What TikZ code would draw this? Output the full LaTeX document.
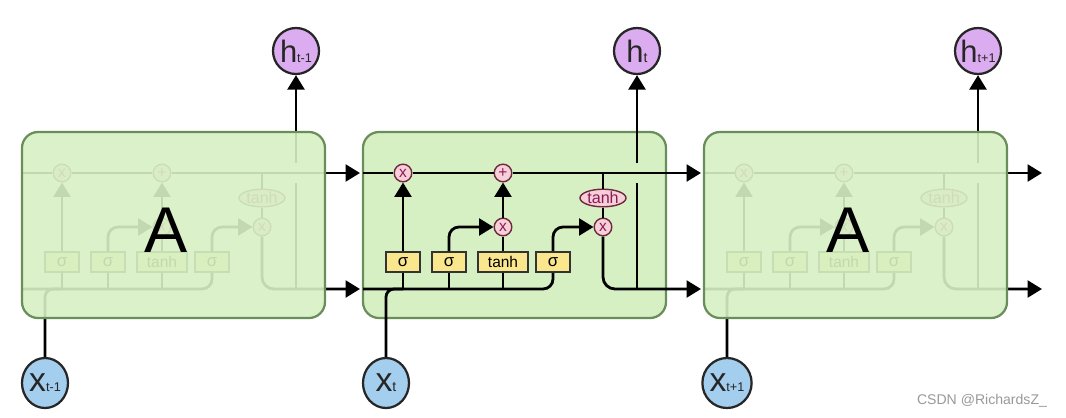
\documentclass[tikz,border=0pt]{standalone}
\usepackage{fontspec}
\setmainfont{Liberation Sans}
\usetikzlibrary{arrows.meta,shapes.geometric}

\definecolor{cellgreen}{RGB}{214,240,196}
\definecolor{celledge}{RGB}{106,142,90}
\definecolor{gatefill}{RGB}{250,230,140}
\definecolor{opfill}{RGB}{246,208,214}
\definecolor{opedge}{RGB}{110,40,66}
\definecolor{optext}{RGB}{140,24,92}
\definecolor{hfill}{RGB}{220,172,240}
\definecolor{xfill}{RGB}{164,206,238}

% one LSTM cell: #1 left edge, #2 prefix, #3 output node, #4 input node
\newcommand{\lstmcell}[4]{%
  \coordinate (#2cin) at (#1,173);
  \coordinate (#2cout) at ({#1+338},173);
  \coordinate (#2hin) at (#1,289);
  \coordinate (#2hout) at ({#1+338},289);
  \coordinate (#2tap) at ({#1+240},173);
  \coordinate (#2hup) at ({#1+274},289);
  \coordinate (#2gapb) at ({#1+274},183);
  \coordinate (#2gapt) at ({#1+274},163);
  \node[op] (#2f) at ({#1+40},173) {x};
  \node[op] (#2a) at ({#1+140},173) {+};
  \node[op] (#2i) at ({#1+140},227) {x};
  \node[op] (#2o) at ({#1+240},227) {x};
  \node[act] (#2th) at ({#1+240},198) {tanh};
  \node[gate] (#2g1) at ({#1+40},262) {σ};
  \node[gate] (#2g2) at ({#1+86},262) {σ};
  \node[gate, minimum width=1.25cm, font=\fontsize{11}{11}\selectfont] (#2g3) at ({#1+140},262) {tanh};
  \node[gate] (#2g4) at ({#1+190},262) {σ};
  % cell state
  \draw (#2cin) -- (#2f) (#2f) -- (#2a);
  \draw[arr] (#2a) -- (#2cout);
  % gates
  \draw[arr] (#2g1) -- (#2f);
  \draw[arr, rounded corners=0.25cm] (#2g2) |- (#2i);
  \draw (#2g3) -- (#2i);
  \draw[arr] (#2i) -- (#2a);
  \draw[arr, rounded corners=0.25cm] (#2g4) |- (#2o);
  \draw (#2tap) -- (#2th) (#2th) -- (#2o);
  % hidden state in and out
  \draw[rounded corners=0.25cm] (#2hin) -| (#2g4);
  \draw (#2g1) -- (#2g1 |- #2hin) (#2g2) -- (#2g2 |- #2hin) (#2g3) -- (#2g3 |- #2hin);
  \draw[rounded corners=0.2cm] (#4) |- (#2g1 |- #2hin);
  \draw[arr, rounded corners=0.3cm] (#2o) |- (#2hout);
  \draw (#2hup) -- (#2gapb);
  \draw[arr] (#2gapt) -- (#3);
}

\begin{document}
\begin{tikzpicture}[x=0.025cm, y=-0.025cm, line width=2pt,
  arr/.style={-{Triangle[length=0.36cm,width=0.42cm]}},
  cellbox/.style={draw=celledge, line width=1.6pt, rounded corners=0.4cm},
  op/.style={circle, draw=opedge, fill=opfill, line width=1pt, minimum size=0.44cm, inner sep=0pt, text=optext, font=\fontsize{11}{11}\selectfont},
  act/.style={ellipse, draw=opedge, fill=opfill, line width=1pt, minimum width=1.15cm, minimum height=0.44cm, inner sep=0pt, text=optext, font=\fontsize{11.5}{11.5}\selectfont},
  gate/.style={rectangle, draw=black!80, fill=gatefill, line width=1.2pt, minimum height=0.5cm, minimum width=0.84cm, inner sep=0pt, font=\fontsize{12}{12}\selectfont},
  hnode/.style={circle, draw=black!85, fill=hfill, line width=1.6pt, minimum size=1.15cm, inner sep=0pt, text=black!85, font=\fontsize{22}{22}\selectfont},
  xnode/.style={ellipse, draw=black!85, fill=xfill, line width=1.6pt, minimum width=1.15cm, minimum height=1.25cm, inner sep=0pt, text=black!85, font=\fontsize{24}{24}\selectfont}]

    \useasboundingbox (0,0) rectangle (1066,417);

    \node[hnode] (hprev) at (296,51) {h{\fontsize{9}{9}\selectfont t-1}};
    \node[hnode] (hcur) at (637,51) {h{\fontsize{10}{10}\selectfont t}};
    \node[hnode] (hnext) at (978,51) {h{\fontsize{9}{9}\selectfont t+1}};
    \node[xnode] (xprev) at (45,383) {x{\fontsize{9}{9}\selectfont t-1}};
    \node[xnode] (xcur) at (386,383) {x{\fontsize{10}{10}\selectfont t}};
    \node[xnode] (xnext) at (727,383) {x{\fontsize{9}{9}\selectfont t+1}};

    % previous cell, faded
    \lstmcell{22}{prev}{hprev}{xprev}
    \fill[cellgreen, fill opacity=.9, rounded corners=0.4cm] (22,132) rectangle (325,318);
    \draw[cellbox] (22,132) rectangle (325,318);
    \node[font=\fontsize{46}{46}\selectfont] (aprev) at (166,230) {A};

    % current cell
    \draw[cellbox, fill=cellgreen] (363,132) rectangle (666,318);
    \lstmcell{363}{cur}{hcur}{xcur}

    % next cell, faded
    \lstmcell{704}{next}{hnext}{xnext}
    \fill[cellgreen, fill opacity=.9, rounded corners=0.4cm] (704,132) rectangle (1007,318);
    \draw[cellbox] (704,132) rectangle (1007,318);
    \node[font=\fontsize{46}{46}\selectfont] (anext) at (848,230) {A};

    \node[text=black!40, font=\fontsize{10}{10}\selectfont] (mark) at (982,401) {CSDN @RichardsZ\_};
\end{tikzpicture}
\end{document}
